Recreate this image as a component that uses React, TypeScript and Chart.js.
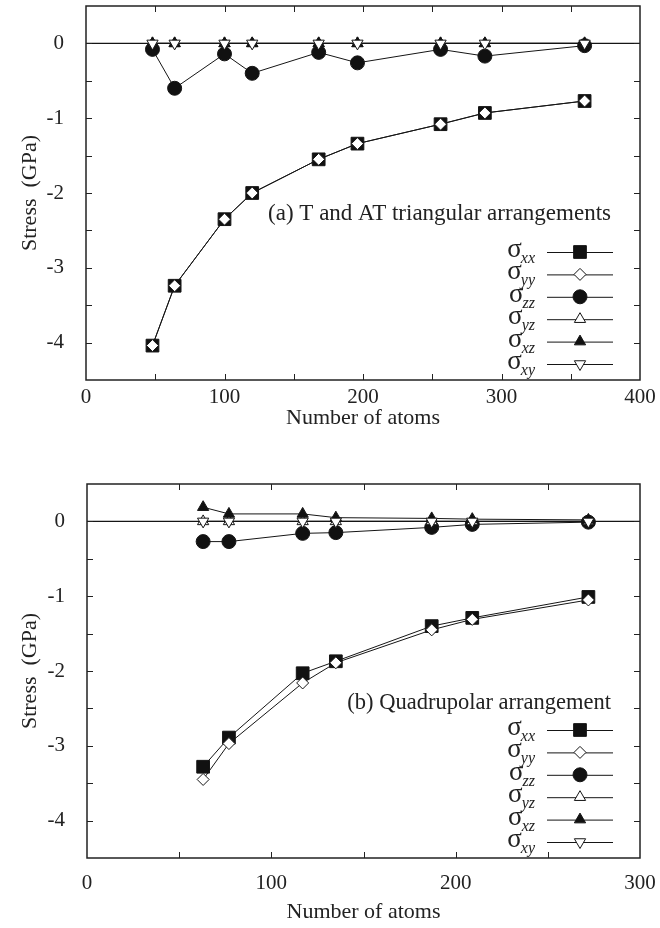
import React, { useEffect, useRef } from 'react';
import { Chart, registerables } from 'chart.js';

Chart.register(...registerables);

// ---------- data: (a) T and AT triangular arrangements ----------
const atomsA = [48, 64, 100, 120, 168, 196, 256, 288, 360];
const sxxA = [-4.04, -3.24, -2.35, -2.0, -1.55, -1.34, -1.08, -0.93, -0.77];
const syyA = [-4.04, -3.24, -2.35, -2.0, -1.55, -1.34, -1.08, -0.93, -0.77];
const szzA = [-0.08, -0.6, -0.14, -0.4, -0.12, -0.26, -0.08, -0.17, -0.03];
const syzA = [0, 0, 0, 0, 0, 0, 0, 0, 0];
const sxzA = [0, 0, 0, 0, 0, 0, 0, 0, 0];
const sxyA = [0, 0, 0, 0, 0, 0, 0, 0, 0];

// ---------- data: (b) Quadrupolar arrangement ----------
const atomsB = [63, 77, 117, 135, 187, 209, 272];
const sxxB = [-3.28, -2.89, -2.03, -1.87, -1.4, -1.29, -1.01];
const syyB = [-3.45, -2.97, -2.16, -1.89, -1.45, -1.31, -1.05];
const szzB = [-0.27, -0.27, -0.16, -0.15, -0.08, -0.04, -0.01];
const syzB = [0, 0, 0, 0, 0, 0, 0];
const sxzB = [0.19, 0.1, 0.1, 0.05, 0.04, 0.03, 0.02];
const sxyB = [0, 0, 0, 0, 0, 0, 0];

// ---------- ticks / labels ----------
const xTicksA = [0, 100, 200, 300, 400];
const xTicksB = [0, 100, 200, 300];
const yTicks = [0, -1, -2, -3, -4];
const seriesSubs = ['xx', 'yy', 'zz', 'yz', 'xz', 'xy'];
const noteA = '(a) T and AT triangular arrangements';
const noteB = '(b) Quadrupolar arrangement';
const xTitle = 'Number of atoms';
const yTitle = 'Stress  (GPa)';

const FONT = '"Liberation Serif", "Times New Roman", serif';
const INK = '#151515';

type Shape = 'rect' | 'rectRot' | 'circle' | 'triangle' | 'triangleDown';
const markerStyles: { shape: Shape; r: number; fill: string }[] = [
  { shape: 'rect', r: 9, fill: '#111' },
  { shape: 'rectRot', r: 6, fill: '#fff' },
  { shape: 'circle', r: 7, fill: '#111' },
  { shape: 'triangle', r: 6.5, fill: '#fff' },
  { shape: 'triangle', r: 6.5, fill: '#111' },
  { shape: 'triangleDown', r: 6.5, fill: '#fff' },
];

function drawMarker(ctx: CanvasRenderingContext2D, shape: Shape, x: number, y: number, r: number, fill: string) {
  ctx.save();
  ctx.fillStyle = fill;
  ctx.strokeStyle = INK;
  ctx.lineWidth = 1;
  ctx.beginPath();
  if (shape === 'rect') {
    const s = r * Math.SQRT1_2;
    ctx.rect(x - s, y - s, 2 * s, 2 * s);
  } else if (shape === 'rectRot') {
    ctx.moveTo(x, y - r);
    ctx.lineTo(x + r, y);
    ctx.lineTo(x, y + r);
    ctx.lineTo(x - r, y);
    ctx.closePath();
  } else if (shape === 'circle') {
    ctx.arc(x, y, r, 0, Math.PI * 2);
  } else if (shape === 'triangle') {
    ctx.moveTo(x, y - r);
    ctx.lineTo(x + 0.866 * r, y + 0.5 * r);
    ctx.lineTo(x - 0.866 * r, y + 0.5 * r);
    ctx.closePath();
  } else {
    ctx.moveTo(x, y + r);
    ctx.lineTo(x - 0.866 * r, y - 0.5 * r);
    ctx.lineTo(x + 0.866 * r, y - 0.5 * r);
    ctx.closePath();
  }
  ctx.fill();
  ctx.stroke();
  ctx.restore();
}

type PanelCfg = {
  atoms: number[];
  series: number[][];
  xMax: number;
  xTicks: number[];
  top: number;
  height: number;
  padTop: number;
  yAxisWidth: number;
  xAxisHeight: number;
  tickPad: number;
  titlePad: number;
  note: string;
  noteDy: number;
  noteSize: number;
};

function makePlugin(cfg: PanelCfg) {
  return {
    id: 'frameDeco',
    beforeDatasetsDraw(chart: any) {
      const { ctx, chartArea: ca, scales } = chart;
      const y0 = scales.y.getPixelForValue(0);
      ctx.save();
      ctx.strokeStyle = INK;
      ctx.lineWidth = 1.2;
      ctx.beginPath();
      ctx.moveTo(ca.left, y0);
      ctx.lineTo(ca.right, y0);
      ctx.stroke();
      ctx.restore();
    },
    afterDraw(chart: any) {
      const { ctx, chartArea: ca, scales } = chart;
      const xs = scales.x;
      const ys = scales.y;
      ctx.save();
      ctx.strokeStyle = '#222';
      ctx.lineWidth = 1.5;
      ctx.strokeRect(ca.left, ca.top, ca.right - ca.left, ca.bottom - ca.top);
      // inward ticks
      ctx.lineWidth = 1;
      const tl = 6;
      ctx.beginPath();
      for (let v = xs.min + 50; v < xs.max - 1e-6; v += 50) {
        const px = Math.round(xs.getPixelForValue(v)) + 0.5;
        ctx.moveTo(px, ca.bottom);
        ctx.lineTo(px, ca.bottom - tl);
        ctx.moveTo(px, ca.top);
        ctx.lineTo(px, ca.top + tl);
      }
      for (let v = ys.min + 0.5; v < ys.max - 1e-6; v += 0.5) {
        const py = Math.round(ys.getPixelForValue(v)) + 0.5;
        ctx.moveTo(ca.left, py);
        ctx.lineTo(ca.left + tl, py);
        ctx.moveTo(ca.right, py);
        ctx.lineTo(ca.right - tl, py);
      }
      ctx.stroke();

      // annotation
      ctx.fillStyle = '#222';
      ctx.font = `${cfg.noteSize}px ${FONT}`;
      ctx.textAlign = 'right';
      ctx.textBaseline = 'middle';
      ctx.fillText(cfg.note, ca.right - 29, ca.top + cfg.noteDy);

      // legend
      const lx1 = ca.right - 93;
      const lx2 = ca.right - 27;
      const mx = ca.right - 60;
      const labelRight = ca.right - 105;
      seriesSubs.forEach((sub, i) => {
        const ry = ca.top + 246 + i * 22.4;
        ctx.strokeStyle = INK;
        ctx.lineWidth = 1;
        ctx.beginPath();
        ctx.moveTo(lx1, ry + 0.5);
        ctx.lineTo(lx2, ry + 0.5);
        ctx.stroke();
        const st = markerStyles[i];
        drawMarker(ctx, st.shape, mx, ry, st.r, st.fill);
        ctx.fillStyle = '#222';
        ctx.textAlign = 'left';
        ctx.textBaseline = 'alphabetic';
        ctx.font = `italic 16px ${FONT}`;
        const sw = ctx.measureText(sub).width;
        ctx.font = `27px ${FONT}`;
        const gw = ctx.measureText('σ').width;
        const gx = labelRight - sw - gw + 1;
        ctx.fillText('σ', gx, ry + 5);
        ctx.font = `italic 16px ${FONT}`;
        ctx.fillText(sub, labelRight - sw, ry + 11);
      });
      ctx.restore();
    },
  };
}

function ChartPanel({ cfg }: { cfg: PanelCfg }) {
  const ref = useRef<HTMLCanvasElement | null>(null);
  useEffect(() => {
    const canvas = ref.current;
    if (!canvas) return;
    const tickFont = { family: FONT, size: 21 };
    const titleFont = { family: FONT, size: 22 };
    const chart = new Chart(canvas, {
      type: 'line',
      data: {
        datasets: seriesSubs.map((sub, i) => {
          const st = markerStyles[i];
          return {
            label: 'σ' + sub,
            data: cfg.atoms.map((x, j) => ({ x, y: cfg.series[i][j] })),
            borderColor: INK,
            borderWidth: 1,
            backgroundColor: st.fill,
            pointStyle: st.shape === 'triangleDown' ? 'triangle' : st.shape,
            pointRotation: st.shape === 'triangleDown' ? 180 : 0,
            pointRadius: st.r,
            pointBorderColor: INK,
            pointBorderWidth: 1,
            pointBackgroundColor: st.fill,
            tension: 0,
            fill: false,
            order: 6 - i,
          } as any;
        }),
      },
      options: {
        animation: false,
        responsive: false,
        maintainAspectRatio: false,
        layout: { padding: { left: 0, right: 20, top: cfg.padTop, bottom: 0 } },
        plugins: { legend: { display: false }, tooltip: { enabled: false } },
        scales: {
          x: {
            type: 'linear',
            min: 0,
            max: cfg.xMax,
            grid: { display: false },
            border: { display: false },
            afterBuildTicks: (s: any) => {
              s.ticks = cfg.xTicks.map((v) => ({ value: v }));
            },
            ticks: {
              font: tickFont,
              color: '#222',
              padding: cfg.tickPad,
              maxRotation: 0,
              autoSkip: false,
              callback: (v: any) => String(v),
            },
            title: {
              display: true,
              text: xTitle,
              font: titleFont,
              color: '#222',
              padding: { top: 0, bottom: cfg.titlePad },
            },
            afterFit: (s: any) => {
              s.height = cfg.xAxisHeight;
              s.paddingLeft = 0;
              s.paddingRight = 0;
            },
          },
          y: {
            type: 'linear',
            min: -4.5,
            max: 0.5,
            grid: { display: false },
            border: { display: false },
            afterBuildTicks: (s: any) => {
              s.ticks = yTicks.map((v) => ({ value: v }));
            },
            ticks: {
              font: tickFont,
              color: '#222',
              padding: 14,
              autoSkip: false,
              callback: (v: any) => String(v),
            },
            title: {
              display: true,
              text: yTitle,
              font: titleFont,
              color: '#222',
              padding: { top: 17, bottom: 0 },
            },
            afterFit: (s: any) => {
              s.width = cfg.yAxisWidth;
              s.paddingTop = 0;
              s.paddingBottom = 0;
            },
          },
        },
      } as any,
      plugins: [makePlugin(cfg)],
    });
    return () => chart.destroy();
  }, [cfg]);
  return (
    <canvas
      ref={ref}
      width={660}
      height={cfg.height}
      style={{ position: 'absolute', left: 0, top: cfg.top, width: 660, height: cfg.height }}
    />
  );
}

const panelA: PanelCfg = {
  atoms: atomsA,
  series: [sxxA, syyA, szzA, syzA, sxzA, sxyA],
  xMax: 400,
  xTicks: xTicksA,
  top: -4,
  height: 444,
  padTop: 3,
  yAxisWidth: 86,
  xAxisHeight: 60,
  tickPad: -3,
  titlePad: 9,
  note: noteA,
  noteDy: 208,
  noteSize: 23,
};

const panelB: PanelCfg = {
  atoms: atomsB,
  series: [sxxB, syyB, szzB, syzB, sxzB, sxyB],
  xMax: 300,
  xTicks: xTicksB,
  top: 464,
  height: 464,
  padTop: 20,
  yAxisWidth: 87,
  xAxisHeight: 70,
  tickPad: 5,
  titlePad: 3,
  note: noteB,
  noteDy: 219,
  noteSize: 22.5,
};

export default function App() {
  return (
    <div style={{ position: 'absolute', left: 0, top: 0, width: 660, height: 928, background: '#fff', overflow: 'hidden' }}>
      <ChartPanel cfg={panelA} />
      <ChartPanel cfg={panelB} />
    </div>
  );
}
